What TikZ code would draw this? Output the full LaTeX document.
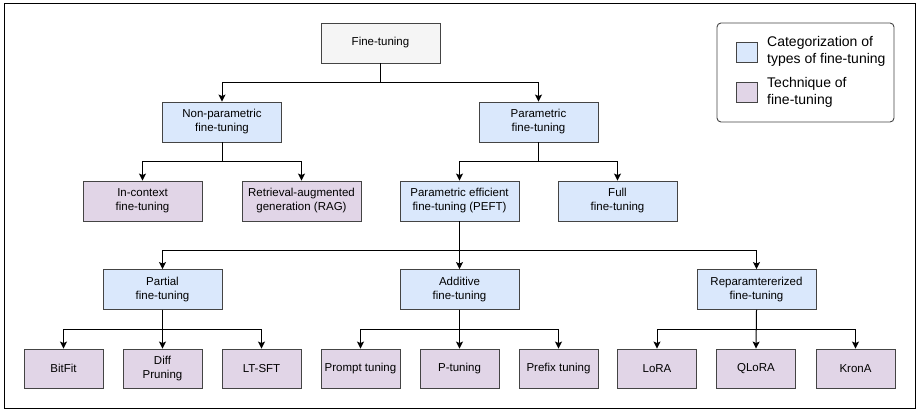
\documentclass[tikz,border=0pt]{standalone}
\usepackage{fontspec}
\setmainfont{Liberation Sans}
\usetikzlibrary{arrows.meta}
\definecolor{grayfill}{HTML}{F5F5F5}
\definecolor{bluefill}{HTML}{DAE8FC}
\definecolor{purpfill}{HTML}{E1D5E7}
\definecolor{edge}{HTML}{444444}
\tikzset{
  base/.style={draw=edge, line width=0.9pt, align=center, inner sep=0pt,
    font=\fontsize{11.5}{14}\selectfont, text=black},
  topbox/.style={base, fill=grayfill, minimum width=119pt, minimum height=40pt},
  catbox/.style={base, fill=bluefill, minimum width=119pt, minimum height=40pt},
  techbox/.style={base, fill=purpfill, minimum width=119pt, minimum height=40pt},
  leafbox/.style={base, fill=purpfill, minimum width=79pt, minimum height=39pt},
  arr/.style={draw=black, line width=1pt, -{Stealth[length=7pt,width=7pt,inset=1.5pt]}},
  legtext/.style={font=\fontsize{14}{17}\selectfont, align=left, anchor=west, inner sep=0pt},
  legsq/.style={draw=edge, line width=0.9pt, minimum width=21pt, minimum height=20pt, inner sep=0pt}
}
\begin{document}
\begin{tikzpicture}[x=1pt,y=-1pt]
\useasboundingbox (0,0) rectangle (920,413);
\draw[line width=1pt, black] (4.5,3.5) rectangle (915,408);

% legend
\draw[draw=edge, line width=0.9pt, rounded corners=4pt, fill=white] (717,23) rectangle (894,122);
\node[legsq, fill=bluefill] (lg1) at (746.5,52) {};
\node[legsq, fill=purpfill] (lg2) at (746.5,92) {};
\node[legtext] (lt1) at (767,51) {Categorization of\\types of fine-tuning};
\node[legtext] (lt2) at (767,92) {Technique of\\fine-tuning};

% level 0
\node[topbox] (ft) at (380.5,43) {Fine-tuning};
% level 1
\node[catbox] (np) at (222,122) {Non-parametric\\fine-tuning};
\node[catbox] (pa) at (538.5,122) {Parametric\\fine-tuning};
% level 2
\node[techbox] (ic) at (142.5,201) {In-context\\fine-tuning};
\node[techbox] (rag) at (301.5,201) {Retrieval-augmented\\generation (RAG)};
\node[catbox] (peft) at (459.5,201) {Parametric efficient\\fine-tuning (PEFT)};
\node[catbox] (full) at (617.5,201) {Full\\fine-tuning};
% level 3
\node[catbox] (part) at (162.5,289.5) {Partial\\fine-tuning};
\node[catbox] (add) at (459.5,289.5) {Additive\\fine-tuning};
\node[catbox] (rep) at (756.5,289.5) {Reparamtererized\\fine-tuning};
% leaves
\node[leafbox] (bf) at (63.5,368.5) {BitFit};
\node[leafbox] (dp) at (162.5,368.5) {Diff\\Pruning};
\node[leafbox] (lt) at (261.5,368.5) {LT-SFT};
\node[leafbox] (pt) at (360.5,368.5) {Prompt tuning};
\node[leafbox] (ptu) at (459.5,368.5) {P-tuning};
\node[leafbox] (pf) at (558.5,368.5) {Prefix tuning};
\node[leafbox] (lo) at (657,368.5) {LoRA};
\node[leafbox] (ql) at (756,368.5) {QLoRA};
\node[leafbox] (kr) at (855.5,368.5) {KronA};

% connectors
\draw[arr] (ft.south) -- ++(0,19) -| (np.north);
\draw[arr] (ft.south) -- ++(0,19) -| (pa.north);
\draw[arr] (np.south) -- ++(0,19) -| (ic.north);
\draw[arr] (np.south) -- ++(0,19) -| (rag.north);
\draw[arr] (pa.south) -- ++(0,19) -| (peft.north);
\draw[arr] (pa.south) -- ++(0,19) -| (full.north);
\draw[arr] (peft.south) -- ++(0,29) -| (part.north);
\draw[arr] (peft.south) -- (add.north);
\draw[arr] (peft.south) -- ++(0,29) -| (rep.north);
\draw[arr] (part.south) -- ++(0,20) -| (bf.north);
\draw[arr] (part.south) -- (dp.north);
\draw[arr] (part.south) -- ++(0,20) -| (lt.north);
\draw[arr] (add.south) -- ++(0,20) -| (pt.north);
\draw[arr] (add.south) -- (ptu.north);
\draw[arr] (add.south) -- ++(0,20) -| (pf.north);
\draw[arr] (rep.south) -- ++(0,20) -| (lo.north);
\draw[arr] (rep.south) -- (ql.north);
\draw[arr] (rep.south) -- ++(0,20) -| (kr.north);
\end{tikzpicture}
\end{document}
